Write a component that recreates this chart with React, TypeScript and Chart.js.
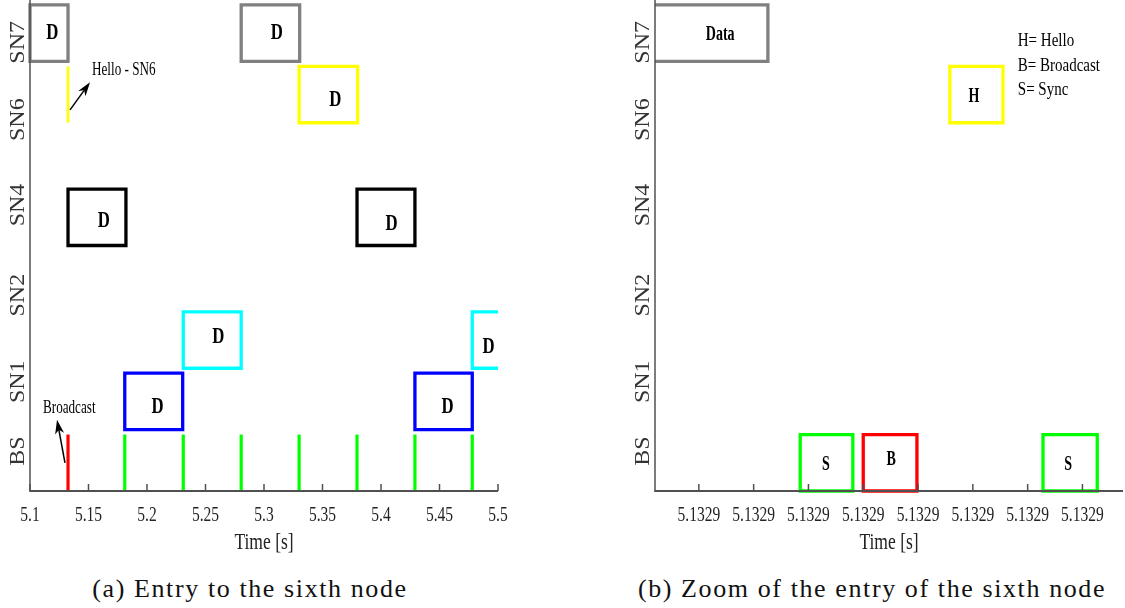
import React, { useEffect, useRef } from 'react';
import { Chart, registerables } from 'chart.js';

Chart.register(...registerables);

// ---------------- shared ----------------
const NODE_NAMES = ['BS', 'SN1', 'SN2', 'SN4', 'SN6', 'SN7'];
const NODE_LEVELS = [0, 1, 2, 4, 6, 7];
const NODE_LABEL_POS = [0.65, 1.78, 3.19, 4.66, 6.05, 7.31];
const Y_MIN = 0;
const Y_MAX = 8;
const SLOT_HEIGHT = 0.92;
const AXIS_TITLE = 'Time [s]';
const CAPTIONS = ['(a) Entry to the sixth node', '(b) Zoom of the entry of the sixth node'];

// ---------------- panel (a) ----------------
const A_X_MIN = 5.1;
const A_X_MAX = 5.5;
const A_X_TICKS = [5.1, 5.15, 5.2, 5.25, 5.3, 5.35, 5.4, 5.45, 5.5];
const A_X_TICK_LABELS = ['5.1', '5.15', '5.2', '5.25', '5.3', '5.35', '5.4', '5.45', '5.5'];

const A_SN7_DATA = [[5.1, 5.1325], [5.2805, 5.3305]];
const A_SN6_DATA = [[5.33, 5.38]];
const A_SN4_DATA = [[5.1325, 5.182], [5.3795, 5.429]];
const A_SN2_DATA = [[5.231, 5.2805], [5.478, 5.528]];
const A_SN1_DATA = [[5.181, 5.2305], [5.429, 5.478]];
const A_SN6_HELLO = [5.1325];
const A_BS_BROADCAST = [5.1325];
const A_BS_SYNC = [5.181, 5.231, 5.2805, 5.33, 5.3795, 5.429, 5.478];

const A_BOX_LABELS = ['D', 'D', 'D', 'D', 'D', 'D', 'D', 'D', 'D'];
const A_BOX_LABEL_X = [5.119, 5.311, 5.361, 5.163, 5.409, 5.261, 5.492, 5.209, 5.457];
const A_BOX_LABEL_Y = [7.46, 7.46, 6.38, 4.41, 4.35, 2.51, 2.35, 1.37, 1.38];

const A_NOTES = ['Hello - SN6', 'Broadcast'];
const A_NOTE_X = [5.153, 5.1111];
const A_NOTE_Y = [6.86, 1.35];
const A_ARROW_FROM = [[5.1342, 6.21], [5.1299, 0.46]];
const A_ARROW_TO = [[5.1513, 6.66], [5.1231, 1.16]];

// ---------------- panel (b) ----------------
const B_X_MIN = 5.1329002;
const B_X_MAX = 5.13290874;
const B_X_TICKS = [5.132901, 5.132902, 5.132903, 5.132904, 5.132905, 5.132906, 5.132907, 5.132908];
const B_X_TICK_LABELS = ['5.1329', '5.1329', '5.1329', '5.1329', '5.1329', '5.1329', '5.1329', '5.1329'];

const B_SN7_DATA = [[5.1329, 5.13290226]];
const B_SN6_HELLO = [[5.13290558, 5.13290655]];
const B_BS_SYNC = [[5.13290285, 5.13290381], [5.13290728, 5.13290827]];
const B_BS_BROADCAST = [[5.132904, 5.13290498]];

const B_BOX_LABELS = ['Data', 'H', 'S', 'B', 'S'];
const B_BOX_LABEL_X = [5.13290139, 5.13290602, 5.13290332, 5.13290451, 5.13290774];
const B_BOX_LABEL_Y = [7.44, 6.42, 0.42, 0.5, 0.42];

const B_KEY_TEXT = ['H= Hello', 'B= Broadcast', 'S= Sync'];
const B_KEY_X = [5.13290682, 5.13290682, 5.13290682];
const B_KEY_Y = [7.33, 6.93, 6.53];

// ---------------- styling ----------------
const COLORS = {
  gray: '#808080',
  yellow: '#ffff00',
  black: '#000000',
  cyan: '#00ffff',
  blue: '#0000ff',
  green: '#00ff00',
  red: '#ff0000',
  axis: '#505050',
  text: '#222222',
};
const SERIF = "'Liberation Serif', 'Times New Roman', serif";

function levelOf(name: string) {
  return NODE_LEVELS[NODE_NAMES.indexOf(name)];
}

function rectDataset(range: number[], node: string, color: string, clip: any) {
  const l = levelOf(node);
  const [s, e] = range;
  return {
    data: [
      { x: s, y: l },
      { x: e, y: l },
      { x: e, y: l + SLOT_HEIGHT },
      { x: s, y: l + SLOT_HEIGHT },
      { x: s, y: l },
    ],
    showLine: true,
    borderColor: color,
    backgroundColor: color,
    borderWidth: 3.3,
    pointRadius: 0,
    fill: false,
    tension: 0,
    borderJoinStyle: 'miter',
    borderCapStyle: 'square',
    clip,
  };
}

function pulseDataset(x: number, node: string, color: string, width: number, clip: any) {
  const l = levelOf(node);
  return {
    data: [
      { x, y: l },
      { x, y: l + SLOT_HEIGHT },
    ],
    showLine: true,
    borderColor: color,
    backgroundColor: color,
    borderWidth: width,
    pointRadius: 0,
    fill: false,
    tension: 0,
    borderCapStyle: 'butt',
    clip,
  };
}

function drawText(
  ctx: CanvasRenderingContext2D,
  text: string,
  x: number,
  y: number,
  font: string,
  sx: number,
  align: CanvasTextAlign,
  color: string
) {
  ctx.save();
  ctx.translate(x, y);
  ctx.scale(sx, 1);
  ctx.font = font;
  ctx.textAlign = align;
  ctx.textBaseline = 'middle';
  ctx.fillStyle = color;
  ctx.fillText(text, 0, 0);
  ctx.restore();
}

function drawArrow(ctx: CanvasRenderingContext2D, x1: number, y1: number, x2: number, y2: number) {
  const ang = Math.atan2(y2 - y1, x2 - x1);
  const len = 14;
  const hw = 4.5;
  const bx = x2 - len * Math.cos(ang);
  const by = y2 - len * Math.sin(ang);
  const nx = x2 - (len - 4) * Math.cos(ang);
  const ny = y2 - (len - 4) * Math.sin(ang);
  ctx.save();
  ctx.strokeStyle = '#000';
  ctx.fillStyle = '#000';
  ctx.lineWidth = 1.5;
  ctx.beginPath();
  ctx.moveTo(x1, y1);
  ctx.lineTo(nx, ny);
  ctx.stroke();
  ctx.beginPath();
  ctx.moveTo(x2, y2);
  ctx.lineTo(bx + hw * Math.sin(ang), by - hw * Math.cos(ang));
  ctx.lineTo(nx, ny);
  ctx.lineTo(bx - hw * Math.sin(ang), by + hw * Math.cos(ang));
  ctx.closePath();
  ctx.fill();
  ctx.restore();
}

type Panel = {
  xMin: number;
  xMax: number;
  xTicks: number[];
  xTickLabels: string[];
  yAxisWidth: number;
  rightPad: number;
  datasets: any[];
  boxLabels: string[];
  boxLabelX: number[];
  boxLabelY: number[];
  boxFont: string;
  boxScale: number;
  notes: string[];
  noteX: number[];
  noteY: number[];
  noteFont: string;
  noteScale: number;
  arrowsFrom: number[][];
  arrowsTo: number[][];
};

const CANVAS_H = 560;
const PLOT_BOTTOM = 491;

function makeDecor(p: Panel) {
  return {
    id: 'decor',
    afterDatasetsDraw(chart: any) {
      const ctx: CanvasRenderingContext2D = chart.ctx;
      const xs = chart.scales.x;
      const ys = chart.scales.y;
      const a = chart.chartArea;
      ctx.save();
      // axes
      ctx.strokeStyle = COLORS.axis;
      ctx.lineWidth = 1.5;
      ctx.beginPath();
      ctx.moveTo(a.left, a.top);
      ctx.lineTo(a.left, a.bottom);
      ctx.stroke();
      ctx.lineWidth = 2;
      ctx.beginPath();
      ctx.moveTo(a.left - 0.75, a.bottom);
      ctx.lineTo(a.right, a.bottom);
      ctx.stroke();
      // x ticks (inward) + labels
      ctx.lineWidth = 1.5;
      p.xTicks.forEach((v, i) => {
        const px = xs.getPixelForValue(v);
        ctx.beginPath();
        ctx.moveTo(px, a.bottom);
        ctx.lineTo(px, a.bottom - 7);
        ctx.stroke();
        drawText(ctx, p.xTickLabels[i], px, a.bottom + 24, `21px ${SERIF}`, 0.74, 'center', COLORS.text);
      });
      // axis title
      drawText(ctx, AXIS_TITLE, (a.left + a.right) / 2, a.bottom + 52, `24px ${SERIF}`, 0.73, 'center', COLORS.text);
      // y labels (rotated)
      NODE_NAMES.forEach((name, i) => {
        const py = ys.getPixelForValue(NODE_LABEL_POS[i]);
        ctx.save();
        ctx.translate(a.left - 12, py);
        ctx.rotate(-Math.PI / 2);
        ctx.scale(1, 0.88);
        ctx.font = `24px ${SERIF}`;
        ctx.textAlign = 'center';
        ctx.textBaseline = 'middle';
        ctx.fillStyle = '#333333';
        ctx.fillText(name, 0, 0);
        ctx.restore();
      });
      // box labels
      p.boxLabels.forEach((t, i) => {
        drawText(
          ctx,
          t,
          xs.getPixelForValue(p.boxLabelX[i]),
          ys.getPixelForValue(p.boxLabelY[i]),
          p.boxFont,
          p.boxScale,
          'center',
          '#000'
        );
      });
      // notes
      p.notes.forEach((t, i) => {
        drawText(
          ctx,
          t,
          xs.getPixelForValue(p.noteX[i]),
          ys.getPixelForValue(p.noteY[i]),
          p.noteFont,
          p.noteScale,
          'left',
          '#000'
        );
      });
      // arrows
      p.arrowsFrom.forEach((f, i) => {
        const t = p.arrowsTo[i];
        drawArrow(
          ctx,
          xs.getPixelForValue(f[0]),
          ys.getPixelForValue(f[1]),
          xs.getPixelForValue(t[0]),
          ys.getPixelForValue(t[1])
        );
      });
      ctx.restore();
    },
  };
}

function makeConfig(p: Panel): any {
  return {
    type: 'scatter',
    data: { datasets: p.datasets },
    options: {
      animation: false,
      responsive: false,
      events: [],
      layout: { padding: { left: 0, top: 0, right: p.rightPad, bottom: 0 } },
      plugins: { legend: { display: false }, tooltip: { enabled: false }, title: { display: false } },
      scales: {
        x: {
          type: 'linear',
          min: p.xMin,
          max: p.xMax,
          grid: { display: false, drawTicks: false },
          border: { display: false },
          ticks: { display: false },
          afterBuildTicks: (s: any) => {
            s.ticks = p.xTicks.map((v) => ({ value: v }));
          },
          afterFit: (s: any) => {
            s.height = CANVAS_H - PLOT_BOTTOM;
          },
        },
        y: {
          type: 'linear',
          min: Y_MIN,
          max: Y_MAX,
          grid: { display: false, drawTicks: false },
          border: { display: false },
          ticks: { display: false },
          afterBuildTicks: (s: any) => {
            s.ticks = NODE_LABEL_POS.map((v) => ({ value: v }));
          },
          afterFit: (s: any) => {
            s.width = p.yAxisWidth;
          },
        },
      },
    },
    plugins: [makeDecor(p)],
  };
}

function buildPanelA(): Panel {
  const clip = { left: 2, top: 5, right: 0, bottom: 2 };
  const ds: any[] = [];
  A_SN7_DATA.forEach((r) => ds.push(rectDataset(r, 'SN7', COLORS.gray, clip)));
  A_SN6_DATA.forEach((r) => ds.push(rectDataset(r, 'SN6', COLORS.yellow, clip)));
  A_SN4_DATA.forEach((r) => ds.push(rectDataset(r, 'SN4', COLORS.black, clip)));
  A_SN2_DATA.forEach((r) => ds.push(rectDataset(r, 'SN2', COLORS.cyan, clip)));
  A_SN1_DATA.forEach((r) => ds.push(rectDataset(r, 'SN1', COLORS.blue, clip)));
  A_SN6_HELLO.forEach((x) => ds.push(pulseDataset(x, 'SN6', COLORS.yellow, 2.7, clip)));
  A_BS_BROADCAST.forEach((x) => ds.push(pulseDataset(x, 'BS', COLORS.red, 3.2, clip)));
  A_BS_SYNC.forEach((x) => ds.push(pulseDataset(x, 'BS', COLORS.green, 3.2, clip)));
  return {
    xMin: A_X_MIN,
    xMax: A_X_MAX,
    xTicks: A_X_TICKS,
    xTickLabels: A_X_TICK_LABELS,
    yAxisWidth: 30,
    rightPad: 62,
    datasets: ds,
    boxLabels: A_BOX_LABELS,
    boxLabelX: A_BOX_LABEL_X,
    boxLabelY: A_BOX_LABEL_Y,
    boxFont: `bold 24px ${SERIF}`,
    boxScale: 0.7,
    notes: A_NOTES,
    noteX: A_NOTE_X,
    noteY: A_NOTE_Y,
    noteFont: `18px ${SERIF}`,
    noteScale: 0.73,
    arrowsFrom: A_ARROW_FROM,
    arrowsTo: A_ARROW_TO,
  };
}

function buildPanelB(): Panel {
  const clip = { left: 0, top: 5, right: 2, bottom: 2 };
  const ds: any[] = [];
  B_SN7_DATA.forEach((r) => ds.push(rectDataset(r, 'SN7', COLORS.gray, clip)));
  B_SN6_HELLO.forEach((r) => ds.push(rectDataset(r, 'SN6', COLORS.yellow, clip)));
  B_BS_SYNC.forEach((r) => ds.push(rectDataset(r, 'BS', COLORS.green, clip)));
  B_BS_BROADCAST.forEach((r) => ds.push(rectDataset(r, 'BS', COLORS.red, clip)));
  return {
    xMin: B_X_MIN,
    xMax: B_X_MAX,
    xTicks: B_X_TICKS,
    xTickLabels: B_X_TICK_LABELS,
    yAxisWidth: 95,
    rightPad: 2,
    datasets: ds,
    boxLabels: B_BOX_LABELS,
    boxLabelX: B_BOX_LABEL_X,
    boxLabelY: B_BOX_LABEL_Y,
    boxFont: `bold 20px ${SERIF}`,
    boxScale: 0.7,
    notes: B_KEY_TEXT,
    noteX: B_KEY_X,
    noteY: B_KEY_Y,
    noteFont: `19px ${SERIF}`,
    noteScale: 0.79,
    arrowsFrom: [],
    arrowsTo: [],
  };
}

function PanelChart({ build, left, width }: { build: () => Panel; left: number; width: number }) {
  const ref = useRef<HTMLCanvasElement | null>(null);
  useEffect(() => {
    if (!ref.current) return;
    const chart = new Chart(ref.current, makeConfig(build()));
    return () => chart.destroy();
  }, [build]);
  return (
    <canvas
      ref={ref}
      width={width}
      height={CANVAS_H}
      style={{ position: 'absolute', left, top: 0, width, height: CANVAS_H }}
    />
  );
}

export default function App() {
  const captionStyle = (center: number): React.CSSProperties => ({
    position: 'absolute',
    left: center - 300,
    width: 600,
    top: 574,
    textAlign: 'center',
    fontFamily: SERIF,
    fontSize: 26,
    lineHeight: '29px',
    letterSpacing: '1.6px',
    color: '#111',
    whiteSpace: 'nowrap',
  });
  return (
    <div
      style={{
        position: 'absolute',
        left: 0,
        top: 0,
        width: 1125,
        height: 608,
        background: '#fff',
        overflow: 'hidden',
      }}
    >
      <PanelChart build={buildPanelA} left={0} width={560} />
      <PanelChart build={buildPanelB} left={560} width={565} />
      <div style={captionStyle(250)}>{CAPTIONS[0]}</div>
      <div style={captionStyle(872)}>{CAPTIONS[1]}</div>
    </div>
  );
}
